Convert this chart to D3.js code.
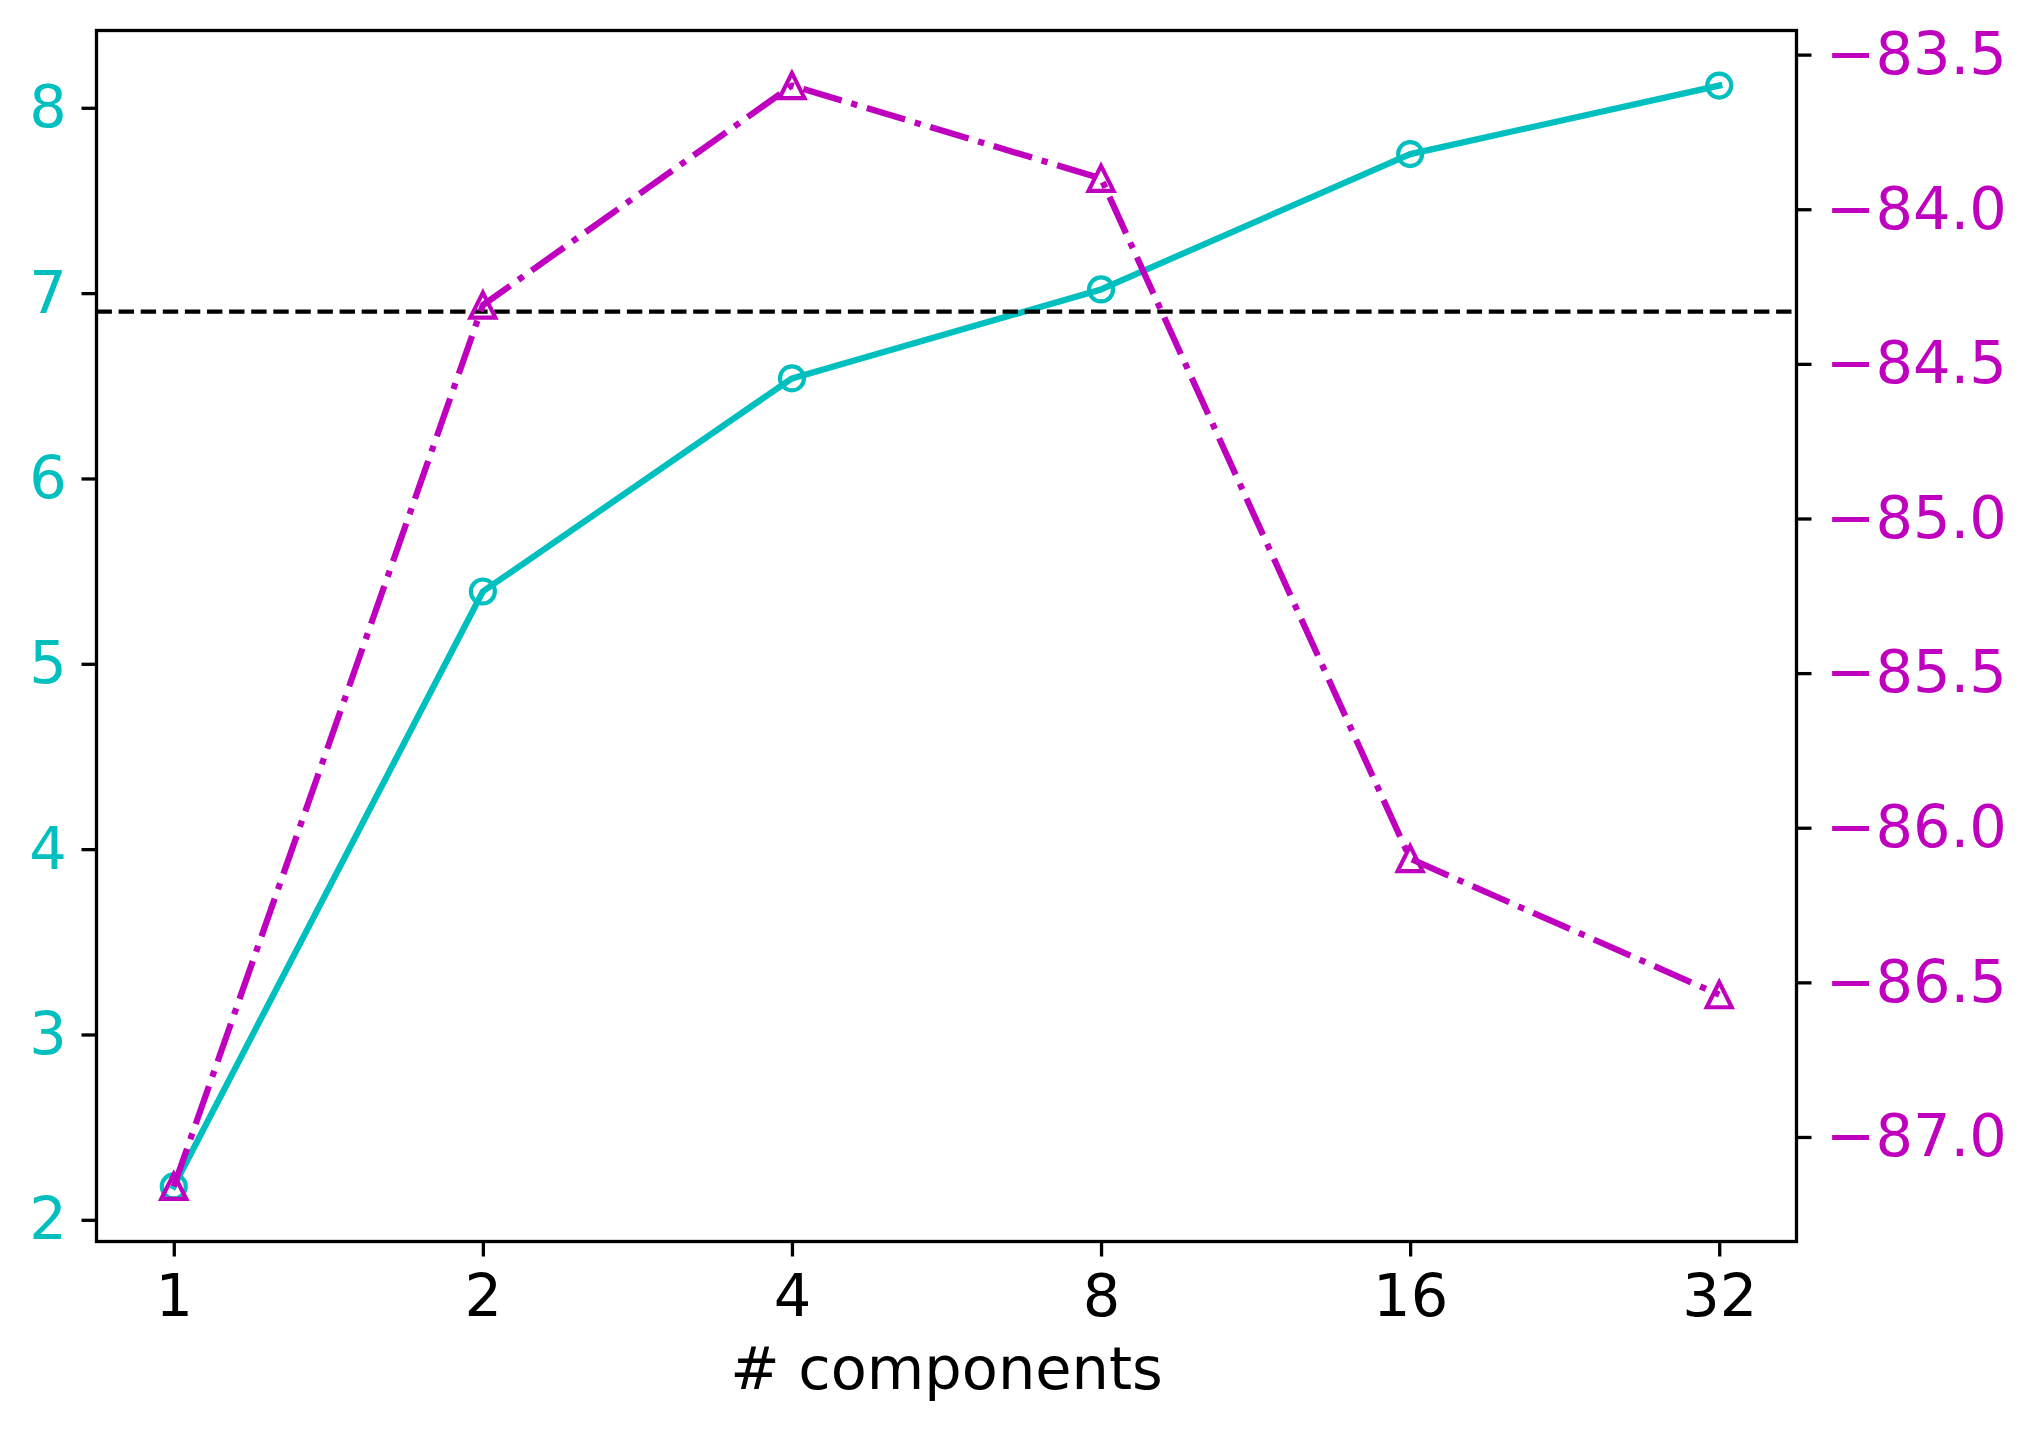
<!DOCTYPE html>
<html>
<head>
<meta charset="utf-8">
<script src="https://cdn.jsdelivr.net/npm/d3@7"></script>
<style>
  body { margin: 0; background: #fff; }
  svg { display: block; font-family: "DejaVu Sans", sans-serif; }
</style>
</head>
<body>
<svg id="canvas"></svg>
<script>
// data
var components = [1, 2, 4, 8, 16, 32]
var leftValues = [2.18, 5.39, 6.54, 7.02, 7.75, 8.12]
var rightValues = [-87.16, -84.31, -83.60, -83.90, -86.10, -86.54]
var baseline = 6.9
var xTicks = [1, 2, 4, 8, 16, 32]
var leftTicks = [2, 3, 4, 5, 6, 7, 8]
var rightTicks = [-87.0, -86.5, -86.0, -85.5, -85.0, -84.5, -84.0, -83.5]
var xLabel = "# components"

var cyan = "#00bfbf", magenta = "#bf00bf"

var margin = {top: 30.5, right: 237.5, bottom: 189.5, left: 96.5},
    width = 2034 - margin.left - margin.right,
    height = 1431 - margin.top - margin.bottom;

var svg = d3.select("#canvas")
    .attr("width", 2034)
    .attr("height", 1431)
    .append("g")
    .attr("transform", "translate(" + margin.left + "," + margin.top + ")");

// matplotlib style 5% padding around the data
function padded(vals, pad) {
    var ext = d3.extent(vals)
    var d = (ext[1] - ext[0]) * pad
    return [ext[0] - d, ext[1] + d]
}

var lx = padded(components.map(function(d) { return Math.log2(d) }), 0.05)
var x = d3.scaleLog().base(2)
    .domain([Math.pow(2, lx[0]), Math.pow(2, lx[1])])
    .range([0, width])

var yLeft = d3.scaleLinear().domain(padded(leftValues, 0.05)).range([height, 0])
var yRight = d3.scaleLinear().domain(padded(rightValues, 0.05)).range([height, 0])

var fontSize = 59
var tickLen = 15
var tickW = 3.3

function fmtMinus(v) { return d3.format(".1f")(v).replace("-", "\u2212") }

// x axis
var xAxis = svg.append("g")
    .attr("transform", "translate(0," + height + ")")
    .call(d3.axisBottom(x).tickValues(xTicks).tickFormat(d3.format("d")).tickSize(tickLen).tickPadding(14.6))
var yAxisL = svg.append("g")
    .call(d3.axisLeft(yLeft).tickValues(leftTicks).tickFormat(d3.format("d")).tickSize(tickLen).tickPadding(14.6))
var yAxisR = svg.append("g")
    .attr("transform", "translate(" + width + ",0)")
    .call(d3.axisRight(yRight).tickValues(rightTicks).tickFormat(fmtMinus).tickSize(tickLen).tickPadding(14.6))

;[xAxis, yAxisL, yAxisR].forEach(function(a) {
    a.select(".domain").remove()
    a.selectAll(".tick line").attr("stroke", "#000").attr("stroke-width", tickW)
    a.selectAll(".tick text").attr("font-size", fontSize).attr("font-family", "DejaVu Sans")
})
xAxis.selectAll(".tick text").attr("fill", "#000").attr("dy", "0.76em")
yAxisL.selectAll(".tick text").attr("fill", cyan)
yAxisR.selectAll(".tick text").attr("fill", magenta)

// left series
var lineL = d3.line()
    .x(function(d, i) { return x(components[i]) })
    .y(function(d) { return yLeft(d) })

svg.append("path")
    .datum(leftValues)
    .attr("d", lineL)
    .attr("fill", "none")
    .attr("stroke", cyan)
    .attr("stroke-width", 6.25)
    .attr("stroke-linejoin", "round")
    .attr("stroke-linecap", "square")

svg.selectAll(".circ")
    .data(leftValues)
    .enter()
    .append("circle")
    .attr("class", "circ")
    .attr("cx", function(d, i) { return x(components[i]) })
    .attr("cy", function(d) { return yLeft(d) })
    .attr("r", 12)
    .attr("fill", "none")
    .attr("stroke", cyan)
    .attr("stroke-width", 4.17)

// dashed reference line
svg.append("line")
    .attr("x1", 0)
    .attr("x2", width)
    .attr("y1", yLeft(baseline))
    .attr("y2", yLeft(baseline))
    .attr("stroke", "#000")
    .attr("stroke-width", 4.17)
    .attr("stroke-dasharray", "15.4,6.7")

// right series
var lineR = d3.line()
    .x(function(d, i) { return x(components[i]) })
    .y(function(d) { return yRight(d) })

svg.append("path")
    .datum(rightValues)
    .attr("d", lineR)
    .attr("fill", "none")
    .attr("stroke", magenta)
    .attr("stroke-width", 6.25)
    .attr("stroke-linejoin", "round")
    .attr("stroke-dasharray", "40,10,6.25,10")

var tri = 12.5
svg.selectAll(".tri")
    .data(rightValues)
    .enter()
    .append("path")
    .attr("class", "tri")
    .attr("transform", function(d, i) { return "translate(" + x(components[i]) + "," + yRight(d) + ")" })
    .attr("d", "M0," + (-tri) + "L" + (-tri) + "," + tri + "L" + tri + "," + tri + "Z")
    .attr("fill", "none")
    .attr("stroke", magenta)
    .attr("stroke-width", 4.17)
    .attr("stroke-linejoin", "miter")

// frame
svg.append("rect")
    .attr("width", width)
    .attr("height", height)
    .attr("fill", "none")
    .attr("stroke", "#000")
    .attr("stroke-width", 3.3)

svg.append("text")
    .attr("x", width / 2)
    .attr("y", height + 147.5)
    .attr("text-anchor", "middle")
    .attr("font-size", fontSize)
    .attr("fill", "#000")
    .text(xLabel)
</script>
</body>
</html>
